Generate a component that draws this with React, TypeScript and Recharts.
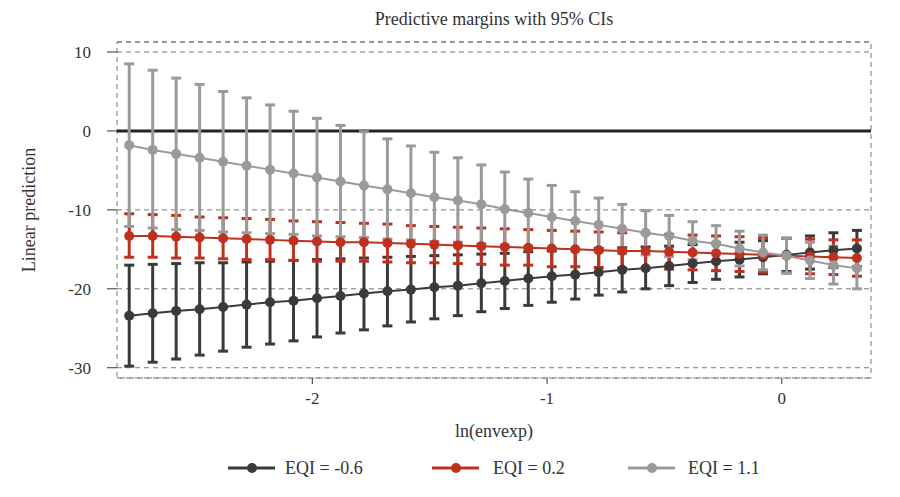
import React from 'react';
import {
    LineChart, Line, XAxis, YAxis, CartesianGrid, ErrorBar, ReferenceLine, ReferenceArea
} from 'recharts';

// ln(envexp) evaluation points
const lnEnvexp = [
    -2.78, -2.68, -2.58, -2.48, -2.38, -2.28, -2.18, -2.08, -1.98, -1.88, -1.78, -1.68, -1.58, -1.48, -1.38, -1.28,
    -1.18, -1.08, -0.98, -0.88, -0.78, -0.68, -0.58, -0.48, -0.38, -0.28, -0.18, -0.08, 0.02, 0.12, 0.22, 0.32
];

// EQI = -0.6
const lowMargin = [
    -23.4, -23.1, -22.8, -22.6, -22.3, -22.0, -21.7, -21.5, -21.2, -20.9, -20.6, -20.3, -20.1, -19.8, -19.6, -19.3,
    -19.0, -18.7, -18.4, -18.2, -17.9, -17.6, -17.4, -17.1, -16.8, -16.5, -16.3, -16.0, -15.7, -15.4, -15.1, -14.9
];
const lowLower = [
    -29.8, -29.3, -28.9, -28.4, -27.9, -27.4, -27.0, -26.6, -26.1, -25.6, -25.2, -24.7, -24.2, -23.8, -23.4, -22.9,
    -22.5, -22.1, -21.7, -21.3, -20.8, -20.4, -20.0, -19.6, -19.2, -18.8, -18.5, -18.1, -17.8, -17.5, -17.3, -17.2
];
const lowUpper = [
    -17.0, -16.9, -16.8, -16.7, -16.7, -16.6, -16.5, -16.4, -16.3, -16.2, -16.1, -16.0, -15.9, -15.8, -15.7, -15.6,
    -15.5, -15.3, -15.2, -15.0, -14.9, -14.8, -14.7, -14.6, -14.4, -14.2, -14.1, -13.9, -13.6, -13.3, -12.9, -12.6
];

// EQI = 0.2
const midMargin = [
    -13.3, -13.3, -13.4, -13.5, -13.6, -13.7, -13.8, -13.9, -14.0, -14.1, -14.1, -14.2, -14.3, -14.4, -14.5, -14.6,
    -14.7, -14.8, -14.9, -15.0, -15.1, -15.2, -15.2, -15.3, -15.4, -15.5, -15.6, -15.7, -15.8, -15.9, -16.0, -16.1
];
const midLower = [
    -16.0, -16.0, -16.1, -16.1, -16.2, -16.3, -16.3, -16.4, -16.5, -16.5, -16.5, -16.6, -16.7, -16.7, -16.8, -16.9,
    -17.0, -17.0, -17.2, -17.2, -17.3, -17.4, -17.4, -17.5, -17.6, -17.7, -17.8, -17.9, -18.0, -18.1, -18.2, -18.4
];
const midUpper = [
    -10.5, -10.6, -10.7, -10.9, -11.0, -11.1, -11.2, -11.4, -11.5, -11.6, -11.7, -11.8, -12.0, -12.1, -12.2, -12.3,
    -12.4, -12.5, -12.6, -12.7, -12.8, -12.9, -13.0, -13.1, -13.2, -13.3, -13.4, -13.5, -13.6, -13.7, -13.8, -13.8
];

// EQI = 1.1
const highMargin = [
    -1.8, -2.4, -2.9, -3.4, -3.9, -4.4, -4.9, -5.4, -5.9, -6.4, -6.9, -7.4, -7.9, -8.4, -8.8, -9.3,
    -9.9, -10.4, -10.9, -11.4, -11.9, -12.4, -12.9, -13.3, -13.9, -14.3, -14.9, -15.4, -15.8, -16.4, -17.0, -17.4
];
const highLower = [
    -12.1, -12.3, -12.5, -12.6, -12.8, -12.9, -13.0, -13.1, -13.3, -13.4, -13.5, -13.7, -13.8, -14.0, -14.1, -14.3,
    -14.5, -14.7, -14.9, -15.1, -15.3, -15.5, -15.7, -15.9, -16.3, -16.6, -17.1, -17.6, -18.0, -18.7, -19.4, -20.0
];
const highUpper = [
    8.5, 7.7, 6.7, 5.9, 5.0, 4.2, 3.3, 2.5, 1.6, 0.7, -0.1, -1.0, -1.9, -2.7, -3.4, -4.3,
    -5.2, -6.1, -6.9, -7.7, -8.5, -9.3, -10.1, -10.7, -11.5, -12.0, -12.7, -13.2, -13.6, -14.1, -14.6, -14.8
];

const xTicks = [-2, -1, 0];
const yTicks = [-30, -20, -10, 0, 10];

const SERIES = [
    { key: 'low', label: 'EQI = -0.6', color: '#3a3a3a' },
    { key: 'mid', label: 'EQI = 0.2', color: '#c0301f' },
    { key: 'high', label: 'EQI = 1.1', color: '#9a9a9a' },
];

const X_DOMAIN: [number, number] = [-2.832, 0.38];
const Y_DOMAIN: [number, number] = [-31.3, 11.27];
const FONT = '"Liberation Serif", "Times New Roman", serif';

const data = lnEnvexp.map((x, i) => ({
    x,
    low: lowMargin[i],
    lowErr: [lowMargin[i] - lowLower[i], lowUpper[i] - lowMargin[i]],
    mid: midMargin[i],
    midErr: [midMargin[i] - midLower[i], midUpper[i] - midMargin[i]],
    high: highMargin[i],
    highErr: [highMargin[i] - highLower[i], highUpper[i] - highMargin[i]],
}));

const legendPos = [
    { lineX: 228, textX: 285 },
    { lineX: 432, textX: 493 },
    { lineX: 628, textX: 688 },
];

const App: React.FC = () => {
    const tickStyle = { fontSize: 17, fill: '#333' };

    return (
        <div style={{ position: 'absolute', left: 0, top: 0, width: 900, height: 497, background: '#fff', fontFamily: FONT, color: '#333' }}>
            {/* recharts text ignores the font prop on ticks, so force it */}
            <style>{`.recharts-wrapper text, .recharts-wrapper tspan { font-family: ${FONT}; }`}</style>
            <div style={{ position: 'absolute', left: 117, width: 754, top: 8, lineHeight: '22px', fontSize: 18, textAlign: 'center' }}>
                Predictive margins with 95% CIs
            </div>
            <LineChart width={900} height={497} data={data} margin={{ top: 42, right: 29, bottom: 79, left: 17 }}>
                <CartesianGrid vertical={false} stroke="#777" strokeDasharray="5 4" />
                <ReferenceArea
                    x1={X_DOMAIN[0]} x2={X_DOMAIN[1]} y1={Y_DOMAIN[0]} y2={Y_DOMAIN[1]}
                    fill="none" fillOpacity={0} stroke="#777" strokeDasharray="5 4" strokeWidth={1}
                />
                <XAxis
                    type="number" dataKey="x" domain={X_DOMAIN} ticks={xTicks} allowDataOverflow
                    axisLine={false} tickSize={6} tickMargin={8} stroke="#333" height={40}
                    tick={tickStyle}
                    label={{ value: 'ln(envexp)', position: 'bottom', offset: 6, style: { fontSize: 18, fill: '#333' } }}
                />
                <YAxis
                    type="number" domain={Y_DOMAIN} ticks={yTicks} allowDataOverflow
                    axisLine={false} tickSize={10} tickMargin={16} stroke="#333" width={100}
                    tick={tickStyle}
                    label={{ value: 'Linear prediction', angle: -90, position: 'insideLeft', offset: 12, style: { textAnchor: 'middle', fontSize: 18, fill: '#333' } }}
                />
                <ReferenceLine y={0} stroke="#222" strokeWidth={3} />
                {SERIES.map(s => (
                    <Line
                        key={s.key}
                        type="linear"
                        dataKey={s.key}
                        stroke={s.color}
                        strokeWidth={2}
                        dot={{ r: 5, fill: s.color, stroke: s.color, strokeWidth: 0 }}
                        isAnimationActive={false}
                    >
                        <ErrorBar dataKey={`${s.key}Err`} direction="y" width={5} stroke={s.color} strokeWidth={3} isAnimationActive={false} />
                    </Line>
                ))}
            </LineChart>
            {SERIES.map((s, i) => (
                <div key={s.key} style={{ position: 'absolute', top: 457, left: legendPos[i].lineX, height: 22, display: 'flex', alignItems: 'center' }}>
                    <svg width={48} height={22} style={{ display: 'block' }}>
                        <line x1={0} y1={11} x2={47} y2={11} stroke={s.color} strokeWidth={3} />
                        <circle cx={24} cy={11} r={5} fill={s.color} />
                    </svg>
                    <span style={{ position: 'absolute', left: legendPos[i].textX - legendPos[i].lineX, fontSize: 18, whiteSpace: 'nowrap', lineHeight: '22px' }}>
                        {s.label}
                    </span>
                </div>
            ))}
        </div>
    );
};

export default App;
